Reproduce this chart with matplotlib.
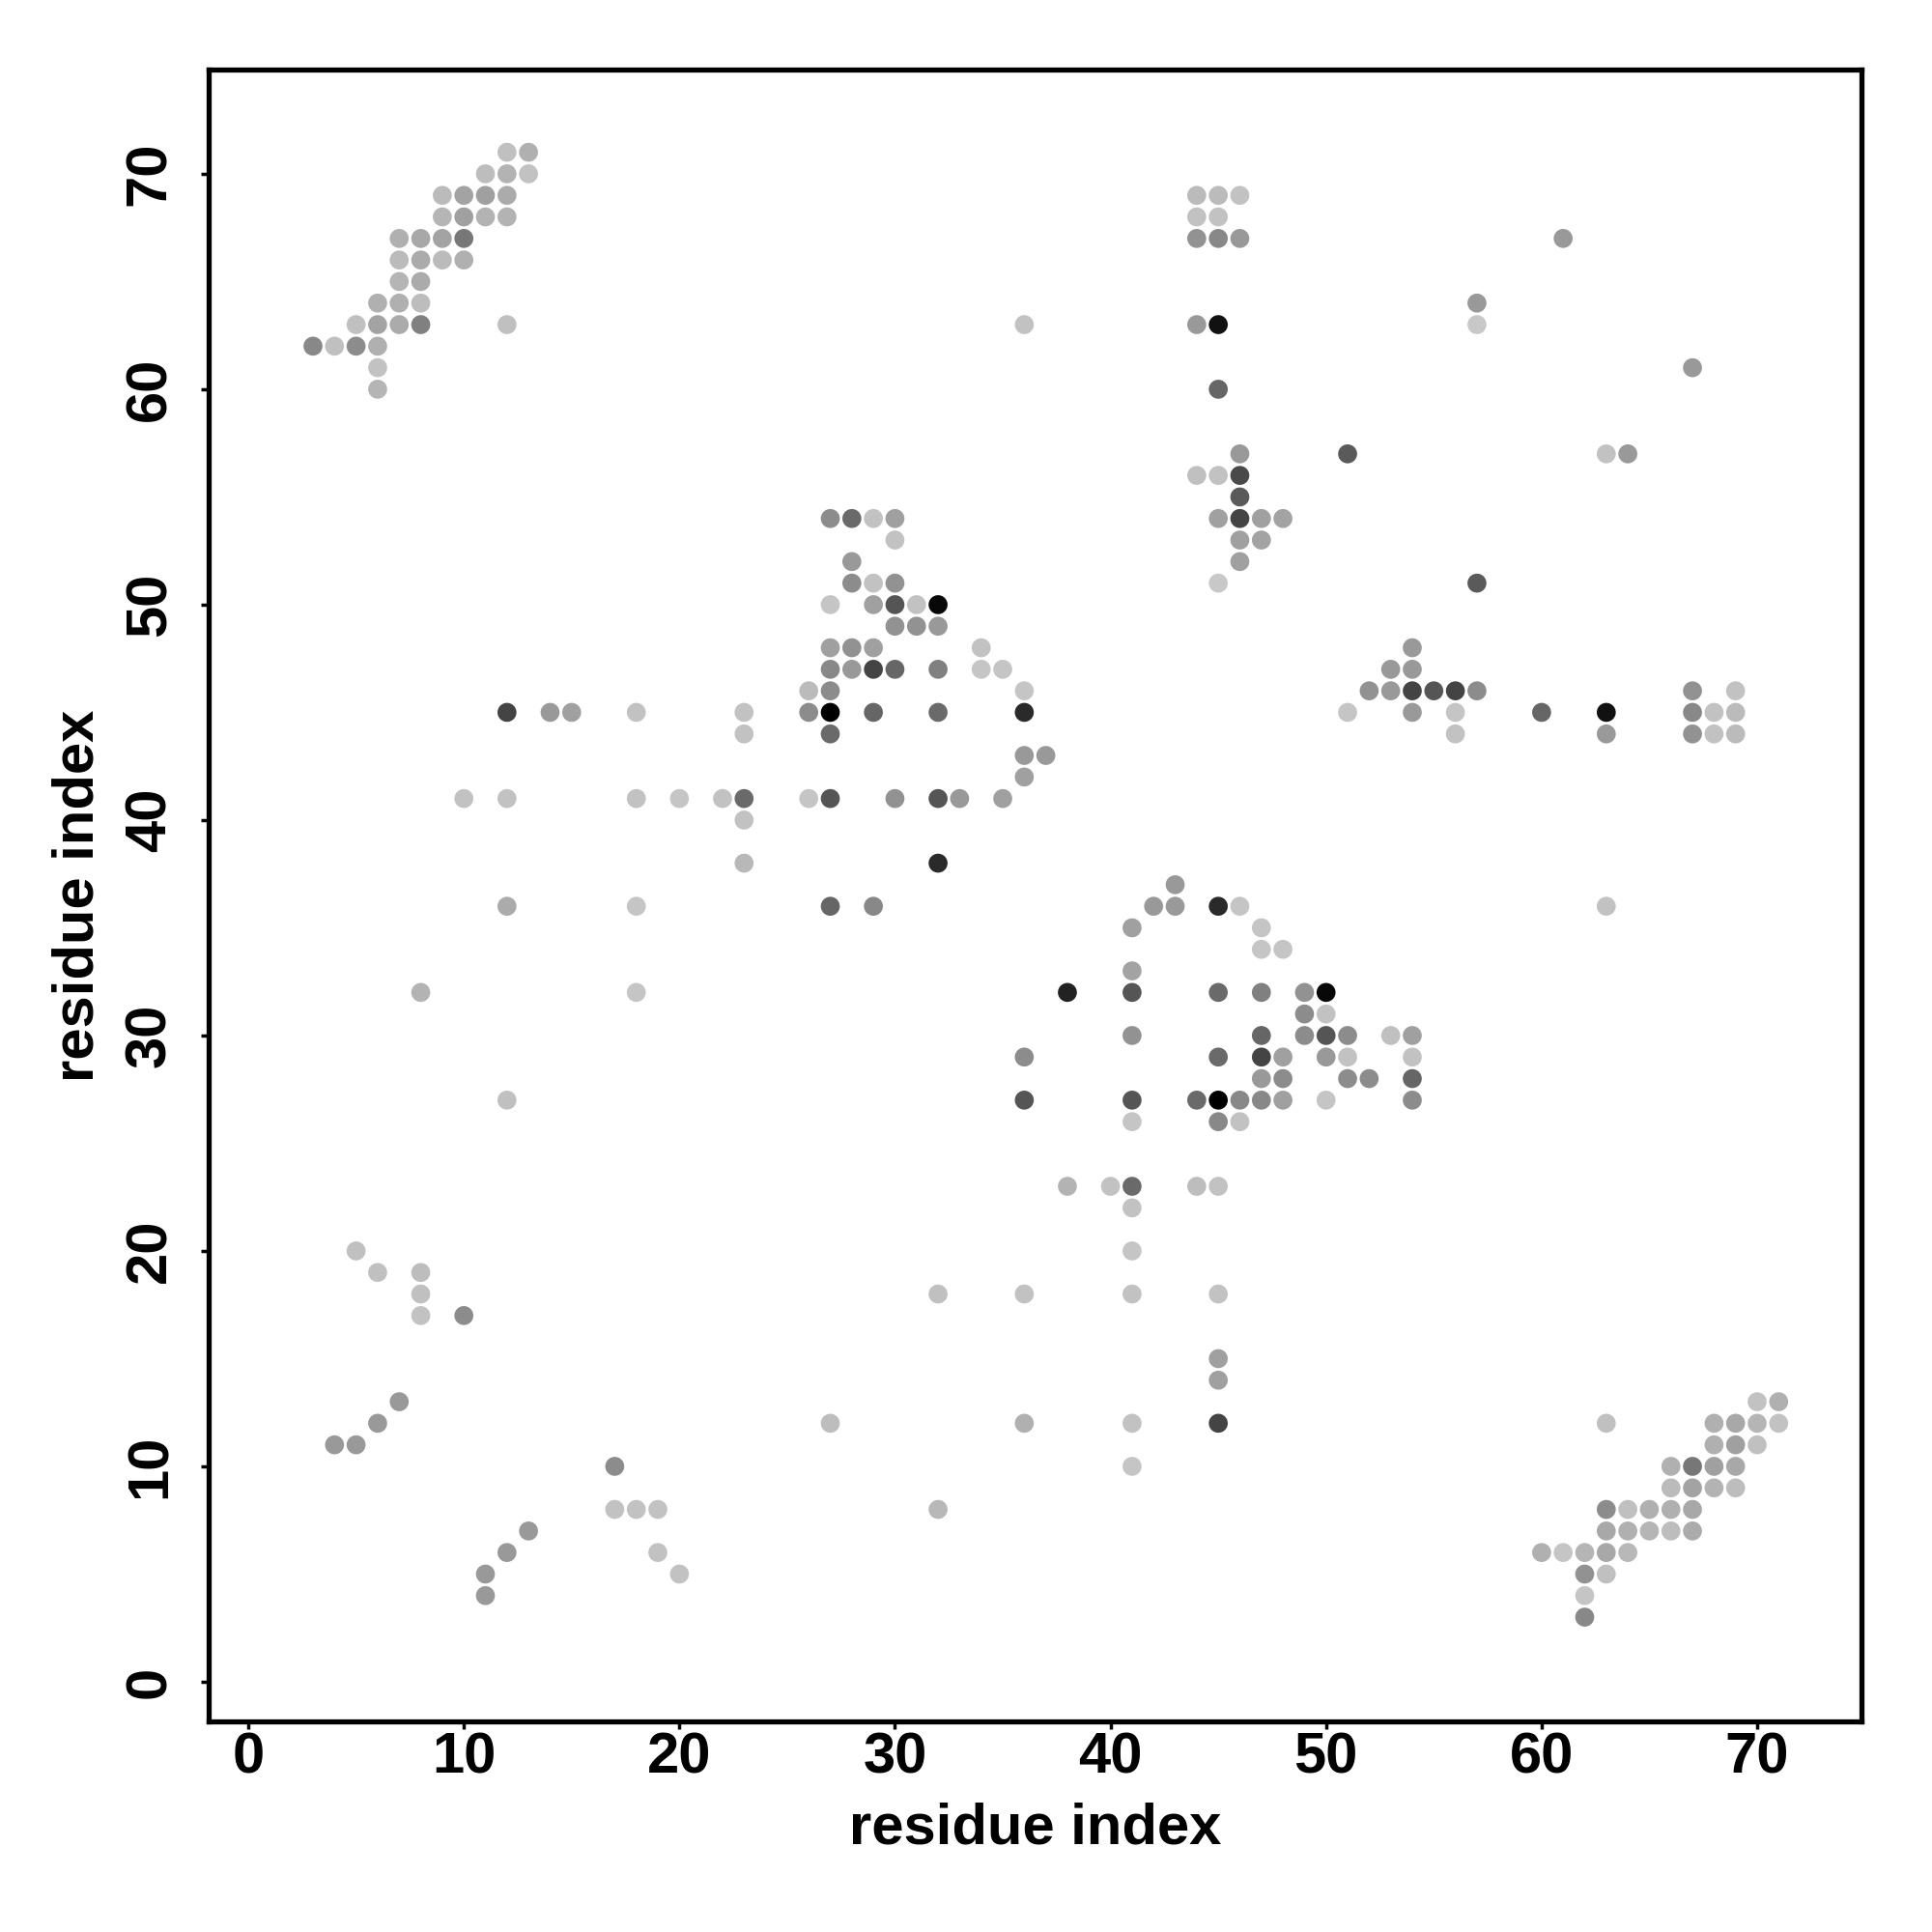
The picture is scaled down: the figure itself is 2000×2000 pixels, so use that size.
import matplotlib
matplotlib.use('Agg')
import matplotlib.pyplot as plt

# contact map: residue i, residue j, grey level of the dot (0 = black, 255 = white)
res_i = [12, 13,
         11, 12, 13,
         9, 10, 11, 12, 44, 45, 46,
         9, 10, 11, 12, 44, 45,
         7, 8, 9, 10, 44, 45, 46, 61,
         7, 8, 9, 10,
         7, 8,
         6, 7, 8, 57,
         5, 6, 7, 8, 12, 36, 44, 45, 57,
         3, 4, 5, 6,
         6, 67,
         6, 45,
         46, 51, 63, 64,
         44, 45, 46,
         46,
         27, 28, 29, 30, 45, 46, 47, 48,
         30, 46, 47,
         28, 46,
         28, 29, 30, 45, 57,
         27, 29, 30, 31, 32,
         30, 31, 32,
         27, 28, 29, 34, 54,
         27, 28, 29, 30, 32, 34, 35, 53, 54,
         26, 27, 36, 52, 53, 54, 55, 56, 57, 67, 69,
         12, 14, 15, 18, 23, 26, 27, 29, 32, 36, 51, 54, 56, 60, 63, 67, 68, 69,
         23, 27, 56, 63, 67, 68, 69,
         36, 37,
         36,
         10, 12, 18, 20, 22, 23, 26, 27, 30, 32, 33, 35,
         23,
         23, 32,
         43,
         12, 18, 27, 29, 42, 43, 45, 46, 63,
         41, 47,
         47, 48,
         41,
         8, 18, 38, 41, 45, 47, 49, 50,
         49, 50,
         41, 47, 49, 50, 51, 53, 54,
         36, 45, 47, 48, 50, 51, 54,
         47, 48, 51, 52, 54,
         12, 36, 41, 44, 45, 46, 47, 48, 50, 54,
         41, 45, 46,
         38, 40, 41, 44, 45,
         41,
         5, 41,
         6, 8,
         8, 32, 36, 41, 45,
         8, 10,
         45,
         45,
         7, 70, 71,
         6, 27, 36, 41, 45, 63, 68, 69, 70, 71,
         4, 5, 68, 69, 70,
         17, 41, 66, 67, 68, 69,
         66, 67, 68, 69,
         17, 18, 19, 32, 63, 64, 65, 66, 67,
         13, 63, 64, 65, 66, 67,
         12, 19, 60, 61, 62, 63, 64,
         11, 20, 62, 63,
         11, 62,
         62]

res_j = [71, 71,
         70, 70, 70,
         69, 69, 69, 69, 69, 69, 69,
         68, 68, 68, 68, 68, 68,
         67, 67, 67, 67, 67, 67, 67, 67,
         66, 66, 66, 66,
         65, 65,
         64, 64, 64, 64,
         63, 63, 63, 63, 63, 63, 63, 63, 63,
         62, 62, 62, 62,
         61, 61,
         60, 60,
         57, 57, 57, 57,
         56, 56, 56,
         55,
         54, 54, 54, 54, 54, 54, 54, 54,
         53, 53, 53,
         52, 52,
         51, 51, 51, 51, 51,
         50, 50, 50, 50, 50,
         49, 49, 49,
         48, 48, 48, 48, 48,
         47, 47, 47, 47, 47, 47, 47, 47, 47,
         46, 46, 46, 46, 46, 46, 46, 46, 46, 46, 46,
         45, 45, 45, 45, 45, 45, 45, 45, 45, 45, 45, 45, 45, 45, 45, 45, 45, 45,
         44, 44, 44, 44, 44, 44, 44,
         43, 43,
         42,
         41, 41, 41, 41, 41, 41, 41, 41, 41, 41, 41, 41,
         40,
         38, 38,
         37,
         36, 36, 36, 36, 36, 36, 36, 36, 36,
         35, 35,
         34, 34,
         33,
         32, 32, 32, 32, 32, 32, 32, 32,
         31, 31,
         30, 30, 30, 30, 30, 30, 30,
         29, 29, 29, 29, 29, 29, 29,
         28, 28, 28, 28, 28,
         27, 27, 27, 27, 27, 27, 27, 27, 27, 27,
         26, 26, 26,
         23, 23, 23, 23, 23,
         22,
         20, 20,
         19, 19,
         18, 18, 18, 18, 18,
         17, 17,
         15,
         14,
         13, 13, 13,
         12, 12, 12, 12, 12, 12, 12, 12, 12, 12,
         11, 11, 11, 11, 11,
         10, 10, 10, 10, 10, 10,
         9, 9, 9, 9,
         8, 8, 8, 8, 8, 8, 8, 8, 8,
         7, 7, 7, 7, 7, 7,
         6, 6, 6, 6, 6, 6, 6,
         5, 5, 5, 5,
         4, 4,
         3]

grey = [192, 176,
        189, 179, 194,
        187, 163, 160, 171, 187, 187, 194,
        181, 160, 179, 179, 194, 194,
        176, 168, 163, 119, 146, 136, 153, 153,
        187, 171, 187, 176,
        181, 171,
        176, 176, 189, 153,
        192, 163, 171, 128, 192, 194, 153, 17, 200,
        136, 192, 140, 176,
        194, 153,
        181, 102,
        153, 90, 194, 153,
        192, 194, 74,
        90,
        140, 106, 194, 160, 160, 68, 160, 163,
        194, 160, 163,
        153, 160,
        140, 194, 146, 200, 90,
        197, 160, 85, 194, 8,
        146, 146, 153,
        160, 146, 160, 194, 153,
        136, 153, 68, 102, 128, 197, 197, 153, 153,
        187, 140, 197, 146, 153, 68, 85, 68, 140, 146, 194,
        68, 153, 160, 194, 194, 140, 0, 102, 106, 42, 197, 153, 197, 102, 17, 136, 194, 187,
        194, 106, 194, 153, 146, 194, 187,
        153, 153,
        160,
        194, 194, 194, 197, 194, 106, 197, 85, 146, 85, 153, 160,
        194,
        184, 42,
        153,
        171, 197, 102, 136, 153, 153, 42, 197, 194,
        160, 197,
        197, 197,
        163,
        179, 197, 34, 85, 106, 128, 146, 8,
        140, 194,
        146, 102, 140, 85, 140, 192, 160,
        140, 106, 68, 160, 153, 194, 194,
        153, 140, 140, 140, 102,
        192, 85, 85, 106, 0, 136, 136, 160, 197, 140,
        197, 136, 194,
        179, 194, 106, 189, 194,
        194,
        192, 197,
        192, 189,
        192, 192, 194, 194, 194,
        194, 140,
        160,
        160,
        153, 194, 176,
        153, 189, 176, 194, 68, 192, 176, 168, 181, 194,
        153, 153, 176, 160, 192,
        140, 197, 176, 119, 160, 168,
        187, 163, 179, 189,
        194, 194, 194, 184, 140, 192, 176, 176, 168,
        153, 168, 176, 181, 189, 171,
        153, 194, 176, 197, 181, 168, 184,
        153, 194, 146, 192,
        153, 197,
        136]

ticks = [0, 10, 20, 30, 40, 50, 60, 70]

plt.rcParams['font.family'] = ['Liberation Sans', 'DejaVu Sans']
plt.rcParams['font.weight'] = 'bold'

fig = plt.figure(figsize=(20, 20), dpi=100)
ax = fig.add_axes([0.108, 0.109, 0.8555, 0.855])

colors = [str(g / 255) for g in grey]
ax.scatter(res_i, res_j, s=200, c=colors, edgecolors='none', zorder=3)

ax.set_xlim(-1.84, 74.84)
ax.set_ylim(-1.84, 74.84)
ax.set_xticks(ticks)
ax.set_yticks(ticks)
ax.set_xticklabels([str(t) for t in ticks], fontsize=43, fontweight='bold')
ax.set_yticklabels([str(t) for t in ticks], fontsize=43, fontweight='bold',
                   rotation=90, va='center')
ax.tick_params(axis='both', direction='out', length=5.5, width=2.5, color='black')
ax.tick_params(axis='x', pad=2)
ax.tick_params(axis='y', pad=18)

for sp in ax.spines.values():
    sp.set_linewidth(3.8)
    sp.set_color('black')

ax.set_xlabel('residue index', fontsize=43, fontweight='bold', labelpad=13)
ax.set_ylabel('residue index', fontsize=43, fontweight='bold', labelpad=14)

plt.savefig('out.png', dpi=100, facecolor='white')
